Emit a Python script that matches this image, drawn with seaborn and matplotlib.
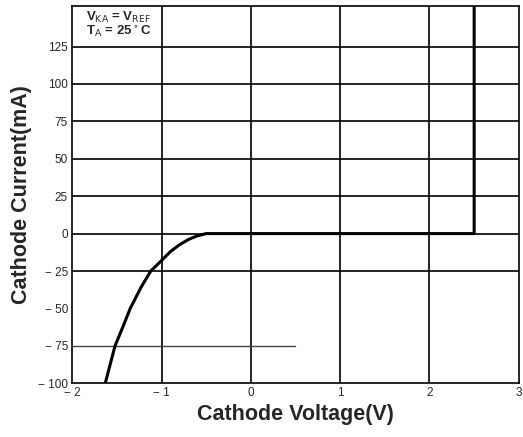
import numpy as np
import pandas as pd
import matplotlib
matplotlib.use('Agg')
import matplotlib.pyplot as plt
import seaborn as sns

# curve (cathode voltage V, cathode current mA)
volts = [-1.63, -1.52, -1.43, -1.35, -1.23, -1.12, -1.0, -0.9, -0.8, -0.7, -0.6, -0.5, 2.5, 2.5]
amps = [-100, -75, -62, -50, -36, -25, -18, -12, -7.5, -4, -1.5, 0, 0, 152]

x_ticks = [-2, -1, 0, 1, 2, 3]
x_labels = ['\u2212 2', '\u2212 1', '0', '1', '2', '3']
y_ticks = [-100, -75, -50, -25, 0, 25, 50, 75, 100, 125]
y_labels = ['\u2212 100', '\u2212 75', '\u2212 50', '\u2212 25', '0', '25', '50', '75', '100', '125']
grid_v = [-1, 0, 1, 2]
grid_h = [-25, 0, 25, 50, 75, 100, 125]

sns.set_theme(style='white')
plt.rcParams['font.family'] = ['Liberation Sans', 'DejaVu Sans']

df = pd.DataFrame({'V': volts, 'I': amps})

fig, ax = plt.subplots(figsize=(5.23, 4.37), dpi=100)
fig.subplots_adjust(left=0.138, right=0.992, top=0.986, bottom=0.123)

# grid drawn by hand since the datasheet grid is irregular
for v in grid_v:
    ax.axvline(v, color='black', lw=1.2, zorder=1)
for h in grid_h:
    ax.axhline(h, color='black', lw=1.2, zorder=1)
ax.axhline(-75, xmin=0, xmax=0.5, color='#444444', lw=1.0, zorder=1)

sns.lineplot(data=df, x='V', y='I', sort=False, estimator=None, color='black', lw=2.2, ax=ax, zorder=3)

ax.set_xlim(-2, 3)
ax.set_ylim(-100, 152)
ax.set_xticks(x_ticks)
ax.set_xticklabels(x_labels, fontsize=8.5)
ax.set_yticks(y_ticks)
ax.set_yticklabels(y_labels, fontsize=8.5)
ax.tick_params(length=0, pad=3)
for s in ax.spines.values():
    s.set_color('black')
    s.set_linewidth(1.2)

ax.set_xlabel('Cathode Voltage(V)', fontsize=15.5, fontweight='bold', labelpad=3)
ax.set_ylabel('Cathode Current(mA)', fontsize=15.5, fontweight='bold', labelpad=4)

ax.text(0.03, 0.99, r'V$_\mathrm{KA}$ = V$_\mathrm{REF}$' + '\n' + r'T$_\mathrm{A}$ = 25$^\circ$C', transform=ax.transAxes,
        fontsize=9.5, fontweight='bold', va='top', ha='left', linespacing=0.85)

fig.savefig('out.png', dpi=100)
